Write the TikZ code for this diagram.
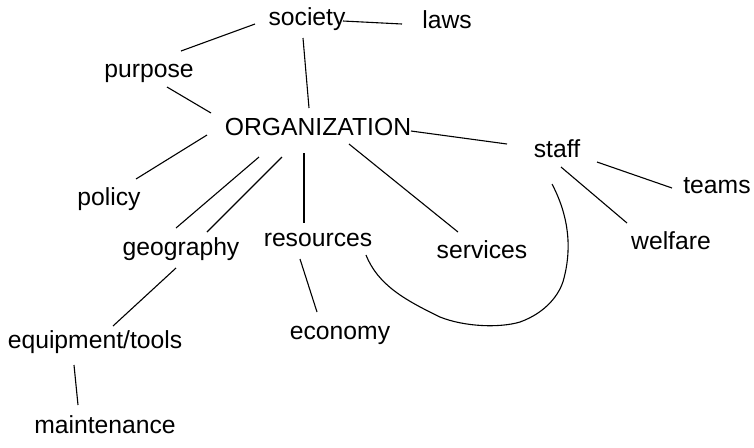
\documentclass[tikz,border=0pt]{standalone}
\usepackage{fontspec}
\setmainfont{Liberation Sans}
\begin{document}
\begin{tikzpicture}[x=0.5pt,y=-0.5pt,
  lbl/.style={anchor=base,inner sep=0pt,font=\fontsize{12.35}{14}\selectfont},
  link/.style={line width=0.55pt,black}]
\useasboundingbox (0,0) rectangle (754,447);
\node[lbl] (society) at (307,25) {society};
\node[lbl] (laws) at (447,28) {laws};
\node[lbl] (purpose) at (149,77) {purpose};
\node[lbl] (org) at (318,135) {ORGANIZATION};
\node[lbl] (staff) at (557,157) {staff};
\node[lbl] (teams) at (717,193) {teams};
\node[lbl] (welfare) at (671,249) {welfare};
\node[lbl] (services) at (482,258) {services};
\node[lbl] (res) at (318,246) {resources};
\node[lbl] (policy) at (109,205) {policy};
\node[lbl] (geo) at (181,255) {geography};
\node[lbl] (econ) at (340,339) {economy};
\node[lbl] (equip) at (95,348) {equipment/tools};
\node[lbl] (maint) at (105,433) {maintenance};
\draw[link] ([shift={(-52,-1)}]society.base) -- ([shift={(32,-26)}]purpose.base);
\draw[link] ([shift={(36,-4)}]society.base) -- ([shift={(-45,-4)}]laws.base);
\draw[link] ([shift={(-4,13)}]society.base) -- ([shift={(-9,-27)}]org.base);
\draw[link] ([shift={(18,10)}]purpose.base) -- ([shift={(-107,-22)}]org.base);
\draw[link] ([shift={(93,-4)}]org.base) -- ([shift={(-50,-13)}]staff.base);
\draw[link] ([shift={(-111,0)}]org.base) -- ([shift={(27,-26)}]policy.base);
\draw[link] ([shift={(-59,22)}]org.base) -- ([shift={(-5,-27)}]geo.base);
\draw[link] ([shift={(-36,22)}]org.base) -- ([shift={(26,-23)}]geo.base);
\draw[link] ([shift={(-14,18)}]org.base) -- ([shift={(-14,-23)}]res.base);
\draw[link] ([shift={(31,9)}]org.base) -- ([shift={(-24,-26)}]services.base);
\draw[link] ([shift={(-18,13)}]res.base) -- ([shift={(-23,-27)}]econ.base);
\draw[link] ([shift={(-5,13)}]geo.base) -- ([shift={(18,-22)}]equip.base);
\draw[link] ([shift={(-21,17)}]equip.base) -- ([shift={(-27,-28)}]maint.base);
\draw[link] ([shift={(40,5)}]staff.base) -- ([shift={(-45,-5)}]teams.base);
\draw[link] ([shift={(4,10)}]staff.base) -- ([shift={(-44,-26)}]welfare.base);
\coordinate (cA) at ([shift={(48,9)}]res.base);
\coordinate (cB) at ([shift={(-5,27)}]staff.base);
\draw[link] (cA) .. controls (378,285) and (405,300) .. (440,317)
  .. controls (465,327) and (500,328) .. (520,322)
  .. controls (545,313) and (560,295) .. (564,278)
  .. controls (570,255) and (572,222) .. (cB);
\end{tikzpicture}
\end{document}
